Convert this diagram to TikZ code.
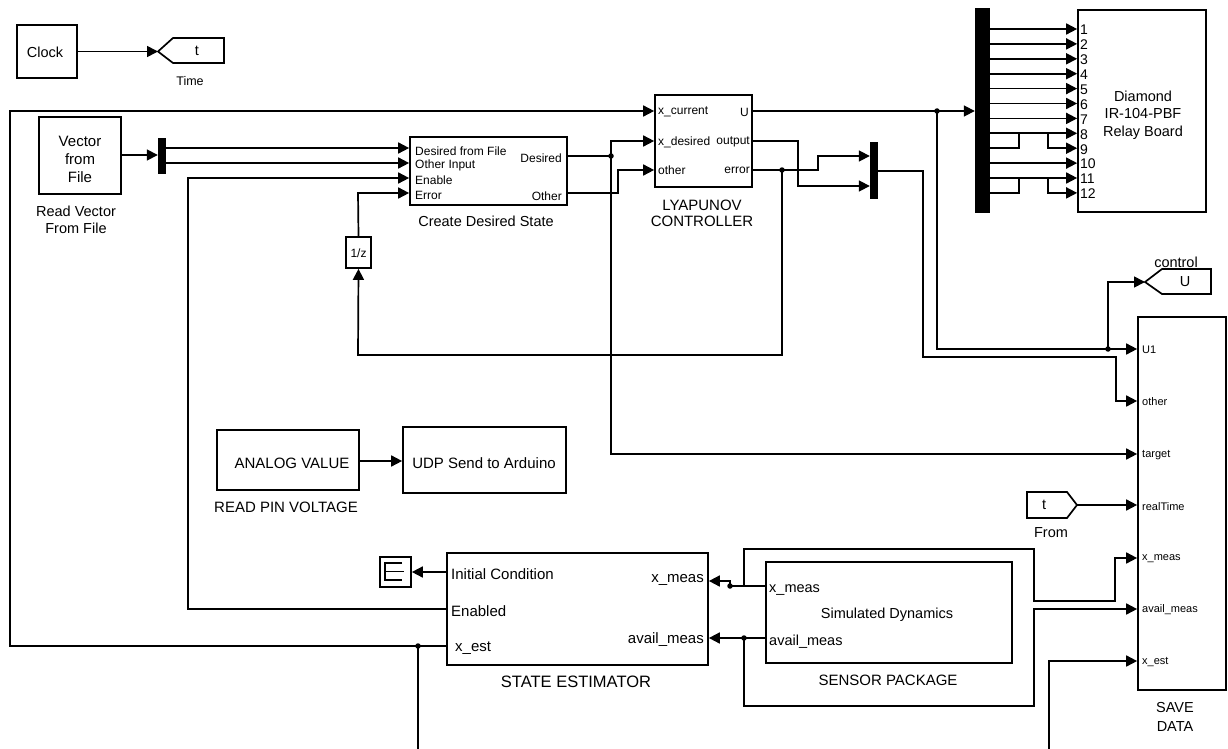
\documentclass[tikz,border=0pt]{standalone}
\usepackage{fontspec}
\setmainfont{Liberation Sans}
\usetikzlibrary{arrows.meta,calc}
\newcommand{\myfs}[2]{\fontsize{#1}{#2}\selectfont}
\begin{document}
\begin{tikzpicture}[x=1pt,y=-1pt,
  blk/.style={draw,line width=1.7pt,inner sep=0pt,rectangle},
  wire/.style={line width=1.7pt},
  arr/.style={line width=1.7pt,-{Triangle[length=11pt,width=11pt]}},
  jdot/.style={circle,fill,inner sep=0pt,minimum size=5.5pt},
  muxbar/.style={fill=black,draw=none,inner sep=0pt,rectangle},
  txt/.style={inner sep=0pt,font=\myfs{14.5}{17}},
  ptxt/.style={inner sep=0pt,font=\myfs{12}{13}},
  stxt/.style={inner sep=0pt,font=\myfs{11}{12}},
]
\useasboundingbox (0,0) rectangle (1228,749);
\fill[white] (0,0) rectangle (1228,749);

% ---------------- blocks ----------------
\node[blk,minimum width=60pt,minimum height=53pt] (clock) at (47,51.5) {};
\node[txt] at (45,52) {Clock};
\coordinate (tagT) at (158,51.5);
\draw[wire] (tagT) -- (173,38) -- (224,38) -- (224,63) -- (173,63) -- cycle;
\node[txt] (tagTtxt) at (197,51) {t};
\node[txt,font=\myfs{12.5}{14}] (timelbl) at (190,81) {Time};

\node[blk,minimum width=82pt,minimum height=77pt] (vff) at (80,155.5) {};
\node[txt,align=center,font=\myfs{15}{18}] at (80,159) {Vector\\from\\File};
\node[txt,align=center,font=\myfs{14.5}{17}] at (76,220) {Read Vector\\From File};

\node[muxbar,minimum width=8pt,minimum height=36pt] (dmx1) at (162,156) {};

\node[blk,minimum width=157pt,minimum height=68pt] (cds) at (488.5,171) {};
\node[ptxt,anchor=west] at (415,151) {Desired from File};
\node[ptxt,anchor=west] at (415,165) {Other Input};
\node[ptxt,anchor=west] at (415,180) {Enable};
\node[ptxt,anchor=west] at (415,195) {Error};
\node[ptxt,anchor=east] at (562,158) {Desired};
\node[ptxt,anchor=east] at (562,196) {Other};
\node[txt] at (486,221) {Create Desired State};

\node[blk,minimum width=25pt,minimum height=31pt] (ud) at (358.5,252.5) {};
\node[ptxt] at (358.5,253) {1/z};

\node[blk,minimum width=97pt,minimum height=92pt] (lyap) at (703.5,141) {};
\node[ptxt,anchor=west] at (658,112) {x\_current};
\node[ptxt,anchor=east] at (749,112) {U};
\node[ptxt,anchor=west] at (658,142) {x\_desired};
\node[ptxt,anchor=east] at (750,142) {output};
\node[ptxt,anchor=west] at (658,170) {other};
\node[ptxt,anchor=east] at (750,170) {error};
\node[txt,align=center,font=\myfs{15}{16}] at (702,213) {LYAPUNOV\\CONTROLLER};

\node[muxbar,minimum width=8pt,minimum height=57pt] (mx2) at (874,170.5) {};
\node[muxbar,minimum width=15pt,minimum height=205pt] (dmx3) at (982.5,110.5) {};

\node[blk,minimum width=128pt,minimum height=202pt] (relay) at (1142,111) {};
\node[txt,align=center,font=\myfs{14.5}{17.5}] at (1143,115) {Diamond\\IR-104-PBF\\Relay Board};

\coordinate (ctlT) at (1145,282);
\draw[wire] (ctlT) -- (1162,269) -- (1211,269) -- (1211,294) -- (1162,294) -- cycle;
\node[txt] at (1185,282) {U};
\node[txt] at (1176,262) {control};

\node[blk,minimum width=88pt,minimum height=373pt] (save) at (1182,503.5) {};
\node[stxt,anchor=west] at (1142,350) {U1};
\node[stxt,anchor=west] at (1142,402) {other};
\node[stxt,anchor=west] at (1142,455) {target};
\node[stxt,anchor=west] at (1142,507) {realTime};
\node[stxt,anchor=west] at (1142,559) {x\_meas};
\node[stxt,anchor=west] at (1142,610) {avail\_meas};
\node[stxt,anchor=west] at (1142,662) {x\_est};
\node[txt,align=center,font=\myfs{14.5}{19}] at (1175,717) {SAVE\\DATA};

\coordinate (fromT) at (1077,505);
\draw[wire] (1027,492) -- (1067,492) -- (fromT) -- (1067,518) -- (1027,518) -- cycle;
\node[txt] at (1044,505) {t};
\node[txt] at (1051,533) {From};

\node[blk,minimum width=142pt,minimum height=60pt] (analog) at (288,460) {};
\node[txt,font=\myfs{15}{17}] at (292,463) {ANALOG VALUE};
\node[txt,font=\myfs{15}{17}] at (286,507) {READ PIN VOLTAGE};
\node[blk,minimum width=163pt,minimum height=66pt] (udp) at (484.5,460) {};
\node[txt,font=\myfs{15}{17}] at (484,463) {UDP Send to Arduino};

\node[blk,minimum width=261pt,minimum height=112pt] (est) at (577.5,609) {};
\node[txt,anchor=west,font=\myfs{15}{17}] at (451,574) {Initial Condition};
\node[txt,anchor=west,font=\myfs{15}{17}] at (451,611) {Enabled};
\node[txt,anchor=west,font=\myfs{15}{17}] at (455,648) {x\_est};
\node[txt,anchor=east,font=\myfs{15}{17}] at (704,580) {x\_meas};
\node[txt,anchor=east,font=\myfs{15}{17}] at (704,640) {avail\_meas};
\node[txt,font=\myfs{16.5}{18}] at (576,682) {STATE ESTIMATOR};

\node[blk,minimum width=31pt,minimum height=30pt] (term) at (395.5,572) {};
\draw[wire] (402,563) -- (385,563) -- (385,580) -- (402,580);
\draw[wire] (385,571.5) -- (404,571.5);

\node[blk,minimum width=246pt,minimum height=101pt] (sens) at (889,612.5) {};
\node[txt,anchor=west] at (769,590) {x\_meas};
\node[txt] at (887,615) {Simulated Dynamics};
\node[txt,anchor=west] at (769,642) {avail\_meas};
\node[txt,font=\myfs{15}{17}] at (888,680) {SENSOR PACKAGE};

% ---------------- ports / coordinates ----------------
\coordinate (bot1) at (418,749);
\coordinate (bot2) at (1049,749);

% ---------------- wires ----------------
\draw[arr] (clock.east |- tagT) -- (tagT);

\draw[arr] (est.west |- 0,646) -- (10,646) -- (10,111) -- (lyap.west |- 0,111);
\node[jdot] (j1) at (418,646) {};
\draw[wire] (j1.center) -- (bot1);

\draw[arr] (vff.east |- 0,155) -- (dmx1.west |- 0,155);
\draw[arr] (dmx1.east |- 0,148) -- (cds.west |- 0,148);
\draw[arr] (dmx1.east |- 0,163) -- (cds.west |- 0,163);

\draw[arr] (est.west |- 0,609) -- (188,609) -- (188,178) -- (cds.west |- 0,178);

\node[jdot] (j2) at (782,170) {};
\draw[arr] (j2.center) -- (782,355) -- (358,355) -- (ud.south);
\draw[arr] (ud.north) -- (358,193) -- (cds.west |- 0,193);

\node[jdot] (j3) at (611,156) {};
\draw[wire] (cds.east |- 0,156) -- (j3.center);
\draw[arr] (j3.center) -- (611,141) -- (lyap.west |- 0,141);
\draw[arr] (j3.center) -- (611,454) -- (save.west |- 0,454);

\draw[arr] (cds.east |- 0,193) -- (618,193) -- (618,170) -- (lyap.west |- 0,170);

\draw[arr] (lyap.east |- 0,111) -- (dmx3.west |- 0,111);
\node[jdot] (j4) at (937,111) {};
\draw[arr] (j4.center) -- (937,349) -- (save.west |- 0,349);
\node[jdot] (j5) at (1108,349) {};
\draw[arr] (j5.center) -- (1108,282) -- (ctlT);

\draw[arr] (lyap.east |- 0,141) -- (798,141) -- (798,186) -- (mx2.west |- 0,186);
\draw[arr] (lyap.east |- 0,170) -- (818,170) -- (818,156) -- (mx2.west |- 0,156);
\draw[arr] (mx2.east |- 0,171) -- (923,171) -- (923,357) -- (1116,357) -- (1116,401) -- (save.west |- 0,401);

% relay board connections
\foreach \i in {1,...,12} {
  \pgfmathsetmacro{\yy}{29+(\i-1)*14.9}
  \node[inner sep=0pt,anchor=west,font=\myfs{14}{14}] at (1080,\yy+1) {\i};
}
\foreach \i in {1,2,3,4,5,6,7,8,10,11} {
  \pgfmathsetmacro{\yy}{29+(\i-1)*14.9}
  \draw[arr] (dmx3.east |- 0,\yy) -- (relay.west |- 0,\yy);
}
\draw[wire] (dmx3.east |- 0,148.2) -- (1019,148.2) -- (1019,133.3);
\draw[arr] (1048,133.3) -- (1048,148.2) -- (relay.west |- 0,148.2);
\draw[wire] (dmx3.east |- 0,192.9) -- (1019,192.9) -- (1019,178);
\draw[arr] (1048,178) -- (1048,192.9) -- (relay.west |- 0,192.9);

\draw[arr] (fromT) -- (save.west |- fromT);
\draw[arr] (analog.east |- 0,461) -- (udp.west |- 0,461);
\draw[arr] (est.west |- 0,572) -- (term.east |- 0,572);

\node[jdot] (j6) at (730,586) {};
\draw[arr] (sens.west |- 0,586) -- (j6.center) -- (730,581) -- (est.east |- 0,581);
\draw[arr] (744,586) -- (744,549) -- (1034,549) -- (1034,601) -- (1115,601) -- (1115,558) -- (save.west |- 0,558);

\node[jdot] (j7) at (744,638) {};
\draw[arr] (sens.west |- 0,638) -- (est.east |- 0,638);
\draw[arr] (j7.center) -- (744,706) -- (1034,706) -- (1034,609) -- (save.west |- 0,609);

\draw[arr] (bot2) -- (1049,661) -- (save.west |- 0,661);
\end{tikzpicture}
\end{document}
